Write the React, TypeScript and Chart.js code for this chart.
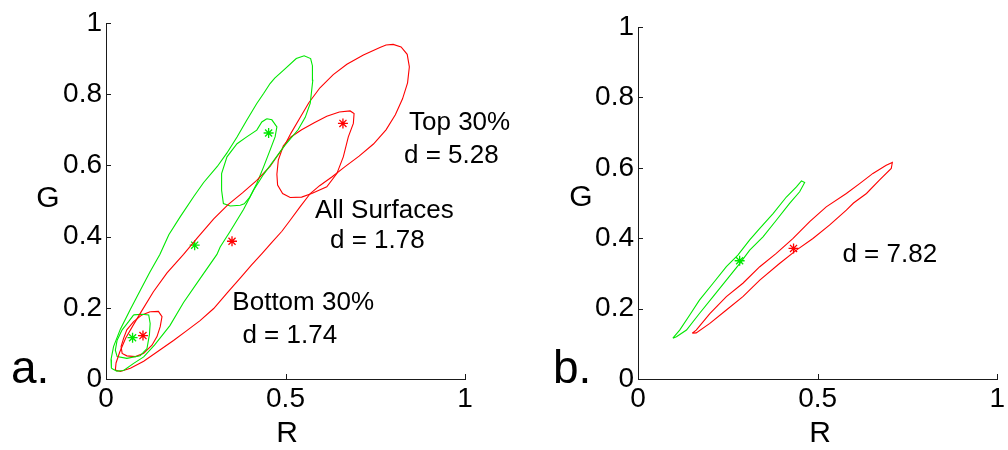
import { useEffect, useRef } from 'react';
import { Chart, registerables } from 'chart.js';

Chart.register(...registerables);

type Pt = [number, number];

// ---- Panel a: contours in R–G chromaticity (green = one class, red = the other) ----
const aAllRed: Pt[] = [
  [0.026, 0.025], [0.040, 0.021], [0.068, 0.030], [0.105, 0.050], [0.151, 0.082], [0.188, 0.108],
  [0.225, 0.136], [0.262, 0.164], [0.300, 0.198], [0.340, 0.245], [0.375, 0.285], [0.405, 0.320],
  [0.435, 0.353], [0.462, 0.384], [0.490, 0.415], [0.513, 0.446], [0.541, 0.484], [0.569, 0.521],
  [0.595, 0.543], [0.630, 0.568], [0.665, 0.596], [0.705, 0.626], [0.745, 0.660], [0.780, 0.700],
  [0.806, 0.742], [0.826, 0.787], [0.840, 0.832], [0.845, 0.877], [0.839, 0.912], [0.822, 0.933],
  [0.800, 0.940], [0.780, 0.938], [0.763, 0.931], [0.717, 0.910], [0.671, 0.884], [0.633, 0.855],
  [0.596, 0.818], [0.565, 0.776], [0.540, 0.733], [0.515, 0.690], [0.497, 0.655], [0.457, 0.597],
  [0.420, 0.558], [0.380, 0.523], [0.340, 0.490], [0.300, 0.450], [0.255, 0.397], [0.216, 0.350],
  [0.170, 0.298], [0.132, 0.245], [0.100, 0.192], [0.075, 0.150], [0.055, 0.115], [0.038, 0.075],
  [0.028, 0.045], [0.026, 0.025],
];

const aAllGreen: Pt[] = [
  [0.015, 0.030], [0.030, 0.022], [0.049, 0.024], [0.077, 0.044], [0.105, 0.062], [0.135, 0.095],
  [0.178, 0.150], [0.216, 0.215], [0.262, 0.282], [0.309, 0.350], [0.318, 0.371], [0.346, 0.415],
  [0.383, 0.476], [0.411, 0.530], [0.439, 0.575], [0.466, 0.612], [0.497, 0.655], [0.535, 0.700],
  [0.555, 0.735], [0.569, 0.775], [0.576, 0.839], [0.575, 0.880], [0.570, 0.900], [0.552, 0.908],
  [0.530, 0.900], [0.494, 0.867], [0.470, 0.845], [0.457, 0.830], [0.439, 0.802], [0.420, 0.774],
  [0.392, 0.727], [0.365, 0.680], [0.337, 0.635], [0.310, 0.597], [0.272, 0.552], [0.244, 0.512],
  [0.207, 0.456], [0.175, 0.405], [0.150, 0.350], [0.122, 0.300], [0.096, 0.250], [0.068, 0.196],
  [0.040, 0.140], [0.021, 0.091], [0.014, 0.055], [0.015, 0.030],
];

const aTopGreen: Pt[] = [
  [0.448, 0.731], [0.462, 0.728], [0.476, 0.708], [0.471, 0.680], [0.457, 0.643], [0.439, 0.596],
  [0.420, 0.549], [0.400, 0.510], [0.385, 0.492], [0.374, 0.488], [0.346, 0.486], [0.327, 0.493],
  [0.322, 0.530], [0.322, 0.577], [0.337, 0.624], [0.365, 0.661], [0.392, 0.680], [0.420, 0.699],
  [0.434, 0.722], [0.448, 0.731],
];

const aTopRed: Pt[] = [
  [0.476, 0.575], [0.478, 0.545], [0.492, 0.521], [0.513, 0.510], [0.545, 0.511], [0.573, 0.521],
  [0.615, 0.540], [0.643, 0.577], [0.661, 0.624], [0.675, 0.680], [0.689, 0.718], [0.691, 0.746],
  [0.680, 0.753], [0.650, 0.750], [0.615, 0.738], [0.580, 0.720], [0.545, 0.700], [0.515, 0.680],
  [0.494, 0.655], [0.480, 0.615], [0.476, 0.575],
];

const aBottomGreen: Pt[] = [
  [0.077, 0.180], [0.100, 0.182], [0.119, 0.180], [0.123, 0.156], [0.121, 0.125], [0.114, 0.085],
  [0.095, 0.065], [0.058, 0.058], [0.031, 0.063], [0.026, 0.081], [0.031, 0.109], [0.045, 0.138],
  [0.063, 0.161], [0.077, 0.180],
];

const aBottomRed: Pt[] = [
  [0.123, 0.189], [0.146, 0.190], [0.156, 0.175], [0.151, 0.147], [0.142, 0.119], [0.128, 0.095],
  [0.105, 0.072], [0.082, 0.063], [0.058, 0.065], [0.045, 0.072], [0.042, 0.091], [0.049, 0.114],
  [0.058, 0.138], [0.077, 0.161], [0.100, 0.180], [0.123, 0.189],
];

// class means
const aGreenMeans: Pt[] = [[0.247, 0.376], [0.453, 0.691], [0.074, 0.116]];
const aRedMeans: Pt[] = [[0.351, 0.387], [0.660, 0.718], [0.103, 0.122]];

// ---- Panel b ----
const bGreen: Pt[] = [
  [0.097, 0.116], [0.116, 0.139], [0.144, 0.182], [0.171, 0.224], [0.209, 0.272], [0.246, 0.319],
  [0.278, 0.352], [0.311, 0.395], [0.339, 0.428], [0.376, 0.470], [0.413, 0.517], [0.441, 0.546],
  [0.455, 0.563], [0.464, 0.558], [0.450, 0.532], [0.422, 0.499], [0.385, 0.451], [0.348, 0.404],
  [0.311, 0.366], [0.283, 0.328], [0.246, 0.281], [0.209, 0.234], [0.171, 0.186], [0.135, 0.139],
  [0.107, 0.120], [0.097, 0.116],
];

const bRed: Pt[] = [
  [0.151, 0.130], [0.162, 0.139], [0.200, 0.186], [0.246, 0.234], [0.292, 0.272], [0.339, 0.319],
  [0.385, 0.357], [0.431, 0.399], [0.478, 0.447], [0.524, 0.489], [0.580, 0.527], [0.617, 0.555],
  [0.654, 0.584], [0.691, 0.607], [0.708, 0.615], [0.705, 0.598], [0.672, 0.565], [0.636, 0.527],
  [0.600, 0.500], [0.580, 0.480], [0.533, 0.437], [0.487, 0.399], [0.441, 0.366], [0.394, 0.328],
  [0.339, 0.281], [0.292, 0.234], [0.246, 0.196], [0.200, 0.158], [0.162, 0.131], [0.151, 0.130],
];

const bGreenMeans: Pt[] = [[0.283, 0.336]];
const bRedMeans: Pt[] = [[0.433, 0.371]];

// axis ticks
const gTicks = [0, 0.2, 0.4, 0.6, 0.8, 1];
const rTicks = [0, 0.5, 1];

// annotation texts, anchored at (R, G) data positions (left edge, baseline)
const aNoteText = ['Top 30%', 'd = 5.28', 'All Surfaces', 'd = 1.78', 'Bottom 30%', 'd = 1.74'];
const aNoteAt: Pt[] = [[0.844, 0.699], [0.830, 0.608], [0.582, 0.451], [0.624, 0.367], [0.352, 0.194], [0.380, 0.100]];
const bNoteText = ['d = 7.82'];
const bNoteAt: Pt[] = [[0.569, 0.333]];

const GREEN = '#00e800';
const RED = '#ff0000';
const AXIS = '#1a1a1a';
const FONT = "'Liberation Sans', Arial, Helvetica, sans-serif";

interface PanelSpec {
  width: number;
  curves: { pts: Pt[]; color: string }[];
  means: { pts: Pt[]; color: string }[];
  noteText: string[];
  noteAt: Pt[];
  letter: string;
  letterX: number;
  gX: number;
  gY: number;
  rX: number;
  leftW: number;
  padTop: number;
  padRight: number;
}

const panelA: PanelSpec = {
  width: 530,
  curves: [
    { pts: aAllGreen, color: GREEN },
    { pts: aAllRed, color: RED },
    { pts: aTopGreen, color: GREEN },
    { pts: aTopRed, color: RED },
    { pts: aBottomGreen, color: GREEN },
    { pts: aBottomRed, color: RED },
  ],
  means: [
    { pts: aGreenMeans, color: GREEN },
    { pts: aRedMeans, color: RED },
  ],
  noteText: aNoteText,
  noteAt: aNoteAt,
  letter: 'a.',
  letterX: 11,
  gX: 48,
  gY: 207,
  rX: 287,
  leftW: 106,
  padTop: 23,
  padRight: 65,
};

const panelB: PanelSpec = {
  width: 478,
  curves: [
    { pts: bGreen, color: GREEN },
    { pts: bRed, color: RED },
  ],
  means: [
    { pts: bGreenMeans, color: GREEN },
    { pts: bRedMeans, color: RED },
  ],
  noteText: bNoteText,
  noteAt: bNoteAt,
  letter: 'b.',
  letterX: 23,
  gX: 51,
  gY: 206,
  rX: 290,
  leftW: 108,
  padTop: 27,
  padRight: 10,
};

// Draws inward tick marks, the free-floating annotations and the unrotated axis labels.
const overlay = {
  id: 'overlay',
  afterDraw(chart: any, _args: any, opts: any) {
    const spec: PanelSpec = opts.spec;
    const { ctx, chartArea } = chart;
    const xs = chart.scales.x;
    const ys = chart.scales.y;
    ctx.save();
    ctx.strokeStyle = AXIS;
    ctx.lineWidth = 1;
    ctx.beginPath();
    for (const v of gTicks) {
      const y = Math.round(ys.getPixelForValue(v)) + 0.5;
      ctx.moveTo(chartArea.left, y);
      ctx.lineTo(chartArea.left + 5, y);
    }
    for (const v of rTicks) {
      const x = Math.round(xs.getPixelForValue(v)) + 0.5;
      ctx.moveTo(x, chartArea.bottom);
      ctx.lineTo(x, chartArea.bottom - 5);
    }
    ctx.stroke();

    ctx.fillStyle = '#000';
    ctx.textBaseline = 'alphabetic';
    ctx.textAlign = 'left';
    ctx.font = `26px ${FONT}`;
    spec.noteText.forEach((t, i) => {
      const [r, g] = spec.noteAt[i];
      ctx.fillText(t, xs.getPixelForValue(r), ys.getPixelForValue(g));
    });

    ctx.font = `30px ${FONT}`;
    ctx.textAlign = 'center';
    ctx.fillText('G', spec.gX, spec.gY);
    ctx.fillText('R', spec.rX, 442);

    ctx.font = `46px ${FONT}`;
    ctx.textAlign = 'left';
    ctx.fillText(spec.letter, spec.letterX, 383);
    ctx.restore();
  },
};

function Panel({ spec }: { spec: PanelSpec }) {
  const ref = useRef<HTMLCanvasElement | null>(null);

  useEffect(() => {
    if (!ref.current) return;
    const tickFont = { family: FONT, size: 28 };
    const datasets: any[] = [];
    for (const c of spec.curves) {
      datasets.push({
        data: c.pts.map(([x, y]) => ({ x, y })),
        showLine: true,
        borderColor: c.color,
        borderWidth: 1.1,
        pointRadius: 0,
        tension: 0,
        fill: false,
      });
    }
    for (const m of spec.means) {
      datasets.push({
        data: m.pts.map(([x, y]) => ({ x, y })),
        showLine: false,
        pointStyle: 'star',
        pointRadius: 5,
        borderColor: m.color,
        backgroundColor: m.color,
        borderWidth: 1.3,
      });
    }

    const chart = new Chart(ref.current, {
      type: 'scatter',
      data: { datasets },
      options: {
        animation: false,
        responsive: false,
        events: [],
        layout: { padding: { left: 0, top: spec.padTop, right: spec.padRight, bottom: 0 } },
        plugins: {
          legend: { display: false },
          tooltip: { enabled: false },
          overlay: { spec },
        } as any,
        scales: {
          x: {
            type: 'linear',
            min: 0,
            max: 1,
            afterBuildTicks: (s: any) => {
              s.ticks = rTicks.map((value) => ({ value }));
            },
            afterFit: (s: any) => {
              s.height = 71;
            },
            ticks: {
              font: tickFont,
              color: '#000',
              padding: 3,
              autoSkip: false,
              maxRotation: 0,
              callback: (v: any) => String(v),
            },
            grid: { display: false, drawTicks: false },
            border: { display: true, color: AXIS, width: 1 },
          },
          y: {
            type: 'linear',
            min: 0,
            max: 1,
            afterBuildTicks: (s: any) => {
              s.ticks = gTicks.map((value) => ({ value }));
            },
            afterFit: (s: any) => {
              s.width = spec.leftW;
            },
            ticks: {
              font: tickFont,
              color: '#000',
              padding: 4,
              autoSkip: false,
              callback: (v: any) => String(v),
            },
            grid: { display: false, drawTicks: false },
            border: { display: true, color: AXIS, width: 1 },
          },
        },
      },
      plugins: [overlay],
    });
    return () => chart.destroy();
  }, [spec]);

  return (
    <canvas
      ref={ref}
      width={spec.width}
      height={450}
      style={{ display: 'block', width: spec.width, height: 450 }}
    />
  );
}

export default function App() {
  return (
    <div
      style={{
        position: 'fixed',
        left: 0,
        top: 0,
        width: 1008,
        height: 450,
        display: 'flex',
        background: '#fff',
      }}
    >
      <Panel spec={panelA} />
      <Panel spec={panelB} />
    </div>
  );
}
